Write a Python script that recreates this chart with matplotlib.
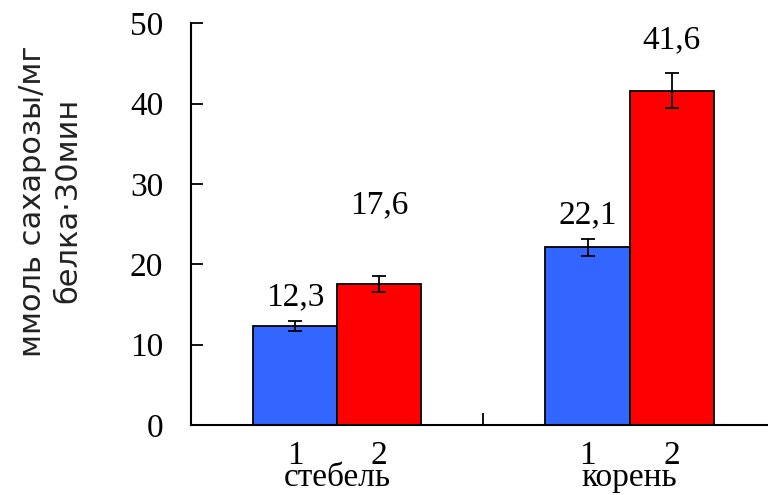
import matplotlib
matplotlib.use("Agg")
import matplotlib.pyplot as plt
import numpy as np

# data
organs = ["стебель", "корень"]
variants = ["1", "2"]
values_1 = [12.3, 22.1]
values_2 = [17.6, 41.6]
errors_1 = [0.6, 1.1]
errors_2 = [1.0, 2.2]
value_labels_1 = ["12,3", "22,1"]
value_labels_2 = ["17,6", "41,6"]

# label heights above bar tops (layout only)
label_lift_1 = [3.6, 4.0]
label_lift_2 = [9.8, 6.3]

blue = "#3366ff"
red = "#ff0000"
serif = ["Liberation Serif", "DejaVu Serif"]
fs = 24

fig = plt.figure(figsize=(7.68, 4.95), dpi=100)
ax = fig.add_axes([191 / 768, 1 - 425 / 495, 1 - 191 / 768, (425 - 23.3) / 495])

x = np.arange(len(organs))
w = 0.288

ekw = dict(ecolor="black", elinewidth=1.3, capsize=4.8, capthick=1.3)
ax.bar(x - w / 2, values_1, w, color=blue, edgecolor="black", linewidth=1.3,
       yerr=errors_1, error_kw=ekw, zorder=2)
ax.bar(x + w / 2, values_2, w, color=red, edgecolor="black", linewidth=1.3,
       yerr=errors_2, error_kw=ekw, zorder=2)

for i in range(len(organs)):
    ax.text(x[i] - w / 2, values_1[i] + label_lift_1[i], value_labels_1[i],
            ha="center", va="center", fontsize=fs, family=serif)
    ax.text(x[i] + w / 2, values_2[i] + label_lift_2[i], value_labels_2[i],
            ha="center", va="center", fontsize=fs, family=serif)
    ax.text(x[i], -0.153, organs[i], transform=ax.get_xaxis_transform(),
            ha="center", va="baseline", fontsize=fs, family=serif)

ax.set_xlim(-0.5, 1.473)
ax.set_ylim(0, 50)
ax.set_yticks(range(0, 51, 10))
ax.set_yticklabels([str(v) for v in range(0, 51, 10)], family=serif, fontsize=fs)

ax.set_xticks(np.concatenate([x - w / 2, x + w / 2]))
ax.set_xticklabels([variants[0]] * len(x) + [variants[1]] * len(x),
                   family=serif, fontsize=fs)
ax.tick_params(axis="x", which="major", length=0, pad=11)
ax.set_xticks([0.5], minor=True)
ax.tick_params(axis="x", which="minor", direction="in", length=9, width=1.3)
ax.tick_params(axis="y", direction="in", length=8.5, width=1.3, pad=20)

for s in ["top", "right"]:
    ax.spines[s].set_visible(False)
for s in ["left", "bottom"]:
    ax.spines[s].set_linewidth(1.5)

ax.set_ylabel("ммоль сахарозы/мг\nбелка·30мин", fontsize=22, family="DejaVu Sans",
              va="center", linespacing=1.3, color="#222222")
ax.yaxis.set_label_coords(-0.244, 0.558)

fig.savefig("out.png", dpi=100)
